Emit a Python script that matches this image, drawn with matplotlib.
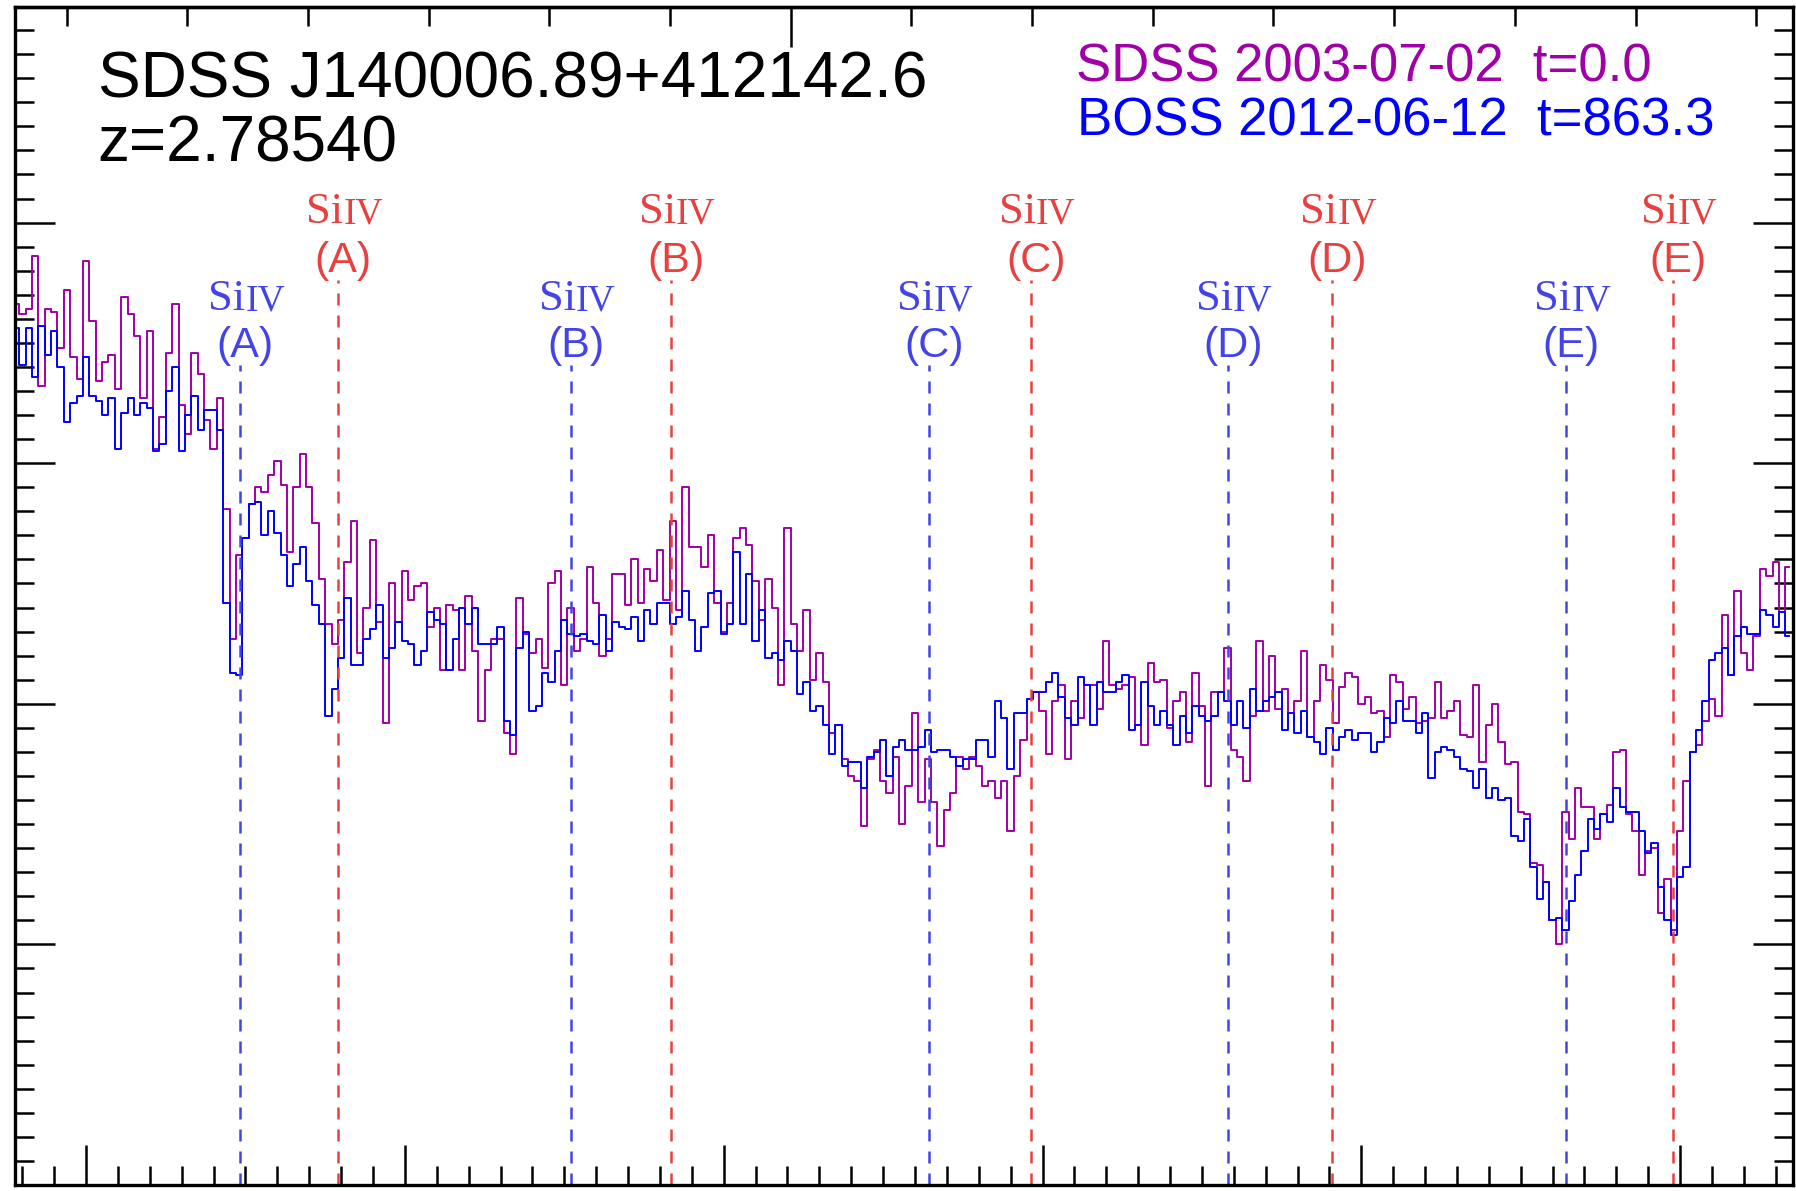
import numpy as np
import matplotlib
matplotlib.use('Agg')
import matplotlib.pyplot as plt
import matplotlib.transforms as mtransforms
from matplotlib.ticker import MultipleLocator

# Quasar and absorber redshifts
z_qso = 2.78540
z_abs = [2.4069, 2.4813, 2.5618, 2.6292, 2.7053]
abs_labels = ['A', 'B', 'C', 'D', 'E']
siiv_rest = [1393.755, 1402.770]

wave_start = 4678.0
wave_step = 2.0

sdss_flux = [
    3.66, 3.62, 3.64, 3.86, 3.32, 3.64, 3.63, 3.48, 3.72, 3.44,
    3.35, 3.84, 3.59, 3.34, 3.42, 3.45, 3.31, 3.69, 3.62, 3.53,
    3.27, 3.55, 3.06, 3.19, 3.46, 3.66, 3.24, 3.12, 3.46, 3.37,
    3.18, 3.06, 3.27, 2.81, 2.27, 2.62, 2.69, 2.83, 2.90, 2.88,
    2.95, 3.01, 2.91, 2.63, 2.90, 3.04, 2.90, 2.75, 2.52, 2.33,
    2.25, 2.35, 2.59, 2.76, 2.21, 2.40, 2.68, 2.34, 1.92, 2.50,
    2.34, 2.55, 2.43, 2.49, 2.50, 2.32, 2.40, 2.14, 2.41, 2.39,
    2.14, 2.45, 2.22, 1.93, 2.14, 2.27, 2.27, 1.88, 1.79, 2.44,
    2.29, 2.21, 2.27, 2.15, 2.50, 2.55, 2.08, 2.40, 2.22, 2.27,
    2.57, 2.42, 2.20, 2.27, 2.54, 2.54, 2.41, 2.60, 2.42, 2.56,
    2.51, 2.64, 2.43, 2.76, 2.39, 2.90, 2.65, 2.65, 2.57, 2.70,
    2.42, 2.30, 2.42, 2.69, 2.73, 2.66, 2.51, 2.35, 2.52, 2.40,
    2.08, 2.73, 2.33, 2.22, 2.39, 2.10, 2.21, 2.09, 1.88, 1.91,
    1.77, 1.70, 1.68, 1.49, 1.77, 1.81, 1.68, 1.63, 1.78, 1.50,
    1.66, 1.96, 1.59, 1.77, 1.59, 1.41, 1.56, 1.63, 1.78, 1.73,
    1.78, 1.74, 1.66, 1.68, 1.61, 1.68, 1.47, 1.70, 1.85, 2.02,
    2.05, 1.97, 1.79, 2.01, 2.08, 1.77, 2.01, 1.94, 2.08, 2.08,
    1.98, 2.26, 2.08, 2.06, 2.08, 2.11, 1.91, 1.83, 2.17, 2.09,
    2.10, 1.90, 2.01, 2.05, 1.84, 2.13, 1.99, 1.66, 2.05, 2.05,
    2.23, 1.81, 1.78, 1.68, 1.95, 2.26, 1.97, 2.20, 1.98, 2.06,
    1.96, 2.01, 2.22, 1.86, 2.01, 2.16, 2.10, 1.92, 2.07, 2.13,
    2.11, 2.00, 2.03, 1.96, 1.97, 1.86, 2.12, 2.09, 1.98, 2.03,
    1.92, 1.93, 1.94, 2.09, 1.94, 1.97, 2.01, 1.87, 1.86, 2.08,
    1.76, 1.91, 2.00, 1.84, 1.75, 1.76, 1.55, 1.54, 1.34, 1.33,
    1.26, 1.10, 1.00, 1.55, 1.44, 1.65, 1.57, 1.57, 1.44, 1.54,
    1.58, 1.80, 1.81, 1.54, 1.47, 1.29, 1.39, 1.40, 1.13, 1.27,
    1.06, 1.47, 1.68, 1.80, 1.83, 1.93, 2.02, 1.95, 2.37, 2.12,
    2.47, 2.21, 2.14, 2.28, 2.56, 2.53, 2.59, 2.38, 2.57,
]

boss_flux = [
    3.56, 3.41, 3.56, 3.36, 3.57, 3.45, 3.55, 3.40, 3.17, 3.25,
    3.28, 3.44, 3.28, 3.26, 3.20, 3.27, 3.06, 3.21, 3.27, 3.20,
    3.25, 3.23, 3.05, 3.08, 3.30, 3.40, 3.05, 3.20, 3.28, 3.14,
    3.22, 3.22, 3.14, 2.42, 2.13, 2.12, 2.69, 2.83, 2.84, 2.70,
    2.80, 2.71, 2.62, 2.49, 2.58, 2.65, 2.51, 2.41, 2.33, 1.95,
    2.06, 2.19, 2.44, 2.16, 2.16, 2.27, 2.31, 2.41, 2.19, 2.23,
    2.34, 2.26, 2.25, 2.16, 2.22, 2.38, 2.35, 2.33, 2.14, 2.27,
    2.40, 2.33, 2.40, 2.25, 2.25, 2.25, 2.32, 1.93, 1.87, 2.23,
    2.30, 1.97, 1.99, 2.13, 2.09, 2.22, 2.35, 2.29, 2.28, 2.29,
    2.26, 2.25, 2.37, 2.22, 2.34, 2.32, 2.31, 2.36, 2.26, 2.39,
    2.33, 2.42, 2.42, 2.33, 2.36, 2.47, 2.35, 2.22, 2.32, 2.46,
    2.47, 2.29, 2.33, 2.63, 2.33, 2.54, 2.26, 2.39, 2.19, 2.21,
    2.18, 2.26, 2.22, 2.04, 2.09, 1.97, 1.99, 1.91, 1.79, 1.91,
    1.74, 1.76, 1.76, 1.65, 1.78, 1.80, 1.85, 1.70, 1.82, 1.85,
    1.81, 1.81, 1.82, 1.89, 1.80, 1.81, 1.81, 1.78, 1.74, 1.77,
    1.77, 1.85, 1.85, 1.78, 2.01, 1.94, 1.73, 1.96, 1.96, 2.02,
    2.05, 2.05, 2.09, 2.13, 2.03, 1.94, 1.91, 2.11, 2.08, 1.91,
    2.09, 2.05, 2.05, 2.09, 2.12, 1.89, 1.91, 2.09, 1.99, 1.91,
    1.97, 1.91, 1.83, 1.95, 1.88, 1.99, 1.95, 1.93, 1.95, 2.05,
    2.01, 1.91, 2.01, 1.90, 2.06, 1.97, 2.01, 2.03, 2.05, 1.89,
    1.96, 1.88, 1.97, 1.86, 1.84, 1.79, 1.90, 1.81, 1.86, 1.89,
    1.85, 1.88, 1.88, 1.80, 1.84, 1.94, 1.92, 2.01, 1.93, 1.93,
    1.88, 1.96, 1.69, 1.80, 1.82, 1.81, 1.78, 1.73, 1.72, 1.65,
    1.73, 1.61, 1.65, 1.60, 1.61, 1.45, 1.43, 1.52, 1.32, 1.19,
    1.26, 1.10, 1.11, 1.06, 1.18, 1.29, 1.39, 1.52, 1.48, 1.54,
    1.51, 1.65, 1.57, 1.55, 1.55, 1.47, 1.38, 1.42, 1.24, 1.10,
    1.04, 1.28, 1.32, 1.80, 1.89, 2.01, 2.18, 2.21, 2.23, 2.12,
    2.28, 2.32, 2.29, 2.29, 2.39, 2.37, 2.32, 2.38, 2.28,
]

purple = '#A000A8'
blue = '#0000FF'
red_lab = '#E8403F'
blue_lab = '#4444E6'

W, H = 1796, 1191
fig = plt.figure(figsize=(W / 100, H / 100), dpi=100)
ax = fig.add_axes([15 / W, 1 - 1185 / H, (1793 - 15) / W, (1185 - 7) / H])

wave = wave_start + wave_step * np.arange(len(sdss_flux))
ax.step(wave, sdss_flux, where='mid', color=purple, lw=1.4)
ax.step(wave, boss_flux, where='mid', color=blue, lw=1.4)

# SiIV doublet markers
lab_tr = mtransforms.offset_copy(ax.transData, fig=fig, x=3.6, y=0, units='points')
for z, lab in zip(z_abs, abs_labels):
    xb = siiv_rest[0] * (1 + z)
    xr = siiv_rest[1] * (1 + z)
    ax.plot([xb, xb], [0, 3.41], color=blue_lab, lw=1.8, dashes=(4.8, 4.0))
    ax.plot([xr, xr], [0, 3.76], color=red_lab, lw=1.8, dashes=(4.8, 4.0))
    for x, col, y1, y2 in [(xb, blue_lab, 3.636, 3.441), (xr, red_lab, 3.998, 3.794)]:
        ax.text(x, y1, 'Si', transform=lab_tr, ha='right', va='baseline',
                color=col, fontsize=32, family='Liberation Serif')
        ax.text(x, y1, 'IV', transform=lab_tr, ha='left', va='baseline',
                color=col, fontsize=27, family='Liberation Serif')
        ax.text(x, y2, '(' + lab + ')', transform=lab_tr, ha='center', va='baseline',
                color=col, fontsize=31, family='Liberation Sans')

ax.set_xlim(4677.7, 5235.4)
ax.set_ylim(0, 4.896)

ax.xaxis.set_major_locator(MultipleLocator(100))
ax.xaxis.set_minor_locator(MultipleLocator(10))
ax.yaxis.set_major_locator(MultipleLocator(1))
ax.yaxis.set_minor_locator(MultipleLocator(0.1))
ax.tick_params(which='both', direction='in', top=False, right=True,
               labelbottom=False, labelleft=False, width=1.8, color='black')
ax.tick_params(which='major', length=28.5)
ax.tick_params(which='minor', length=14)

# rest-frame wavelength along the top
sec = ax.secondary_xaxis('top', functions=(lambda w: w / (1 + z_qso), lambda r: r * (1 + z_qso)))
sec.xaxis.set_major_locator(MultipleLocator(100))
sec.xaxis.set_minor_locator(MultipleLocator(10))
sec.tick_params(which='both', direction='in', labeltop=False, width=1.8)
sec.tick_params(which='major', length=28.5)
sec.tick_params(which='minor', length=14)

for sp in ax.spines.values():
    sp.set_linewidth(2.4)
for sp in sec.spines.values():
    sp.set_linewidth(2.4)

fig.text(97.6 / W, 1 - 97.7 / H, 'SDSS J140006.89+412142.6', fontsize=46,
         family='Liberation Sans', va='baseline')
fig.text(97.6 / W, 1 - 162 / H, 'z=2.78540', fontsize=46,
         family='Liberation Sans', va='baseline')
fig.text(1076 / W, 1 - 82 / H, 'SDSS 2003-07-02  t=0.0', fontsize=38, color=purple,
         family='Liberation Sans', va='baseline')
fig.text(1077 / W, 1 - 135 / H, 'BOSS 2012-06-12  t=863.3', fontsize=38, color=blue,
         family='Liberation Sans', va='baseline')

fig.savefig('out.png', dpi=100)
